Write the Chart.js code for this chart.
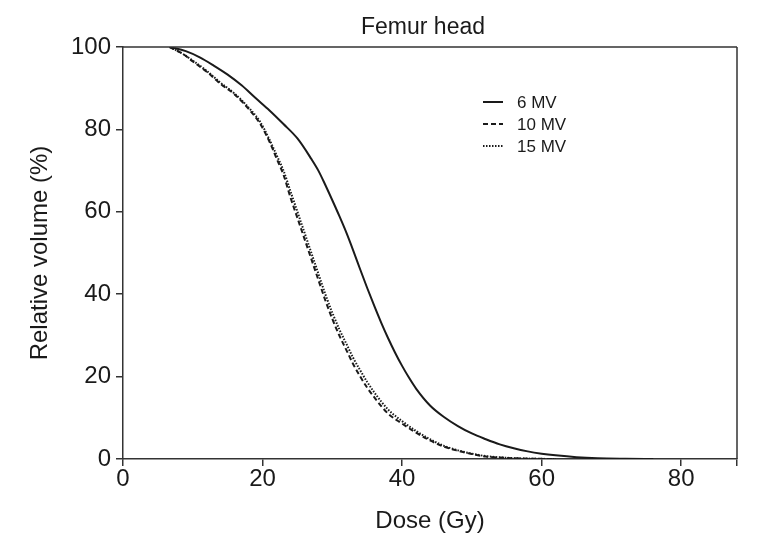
<!DOCTYPE html>
<html><head><meta charset="utf-8">
<script src="https://cdn.jsdelivr.net/npm/chart.js@4.4.1/dist/chart.umd.min.js"></script>
<style>html,body{margin:0;padding:0;background:#fff}#wrap{width:777px;height:554px}</style>
</head><body><div id="wrap"><canvas id="c" width="777" height="554"></canvas></div>
<script>
const chartTitle = "Femur head";
const seriesNames = ["6 MV", "10 MV", "15 MV"];
const dose6  = [6.7, 9, 11, 13, 15, 17, 19, 21, 23, 25, 27, 28, 29, 30, 31, 32, 33, 34, 35, 36, 37, 38, 39, 40, 41, 42, 44, 46, 48, 50, 52, 54, 56, 58, 60, 62, 65, 68, 72, 76];
const vol6   = [100, 99, 97.5, 95.5, 93.3, 90.7, 87.6, 84.6, 81.3, 77.8, 72.8, 70, 66.5, 62.8, 59, 55, 50.6, 46, 41.5, 37.2, 33.1, 29.3, 25.8, 22.6, 19.7, 17.1, 13, 10.2, 8, 6.2, 4.8, 3.55, 2.6, 1.85, 1.3, 0.9, 0.45, 0.2, 0.07, 0];
const dose10 = [6.7, 8.6, 10, 12, 14, 16, 18, 19.6, 21, 22, 23, 24, 25, 26, 27, 28, 29, 30, 31, 32, 33, 34, 35, 36, 38, 40, 42, 44, 46, 48, 50, 52, 55, 58, 62];
const vol10  = [100, 98.3, 96.5, 94, 91, 88.5, 85, 81.5, 77, 73, 69, 63.5, 58.5, 53.5, 48.5, 43.5, 38.5, 34, 30, 26.5, 23, 20, 17.3, 15, 11, 8.6, 6.4, 4.5, 3, 2, 1.2, 0.6, 0.25, 0.08, 0];
const dose15 = [6.7, 8.6, 10, 12, 14, 16, 18, 19.6, 21, 22, 23, 24, 25, 26, 27, 28, 29, 30, 31, 32, 33, 34, 35, 36, 38, 40, 42, 44, 46, 48, 50, 52, 55, 58, 62];
const vol15  = [100, 98.3, 96.7, 94.2, 91.3, 88.7, 85.3, 82, 77.5, 73.8, 70, 65, 60, 55, 50, 45, 40, 35.5, 31.5, 28, 24.5, 21.5, 18.7, 16.2, 12, 9.2, 6.8, 4.8, 3.2, 2.1, 1.3, 0.7, 0.3, 0.1, 0];
const xTicks = [0, 20, 40, 60, 80];
const yTicks = [0, 20, 40, 60, 80, 100];

const pts = (xs, ys) => xs.map((x, i) => ({x: x, y: ys[i]}));
const ink = '#1a1a1a';
const font = 'Liberation Sans, Arial, sans-serif';

const frame = {
  id: 'frame',
  afterDatasetsDraw(chart) {
    const {ctx, chartArea: a} = chart;
    ctx.save();
    ctx.strokeStyle = '#333';
    ctx.lineWidth = 1.5;
    ctx.beginPath();
    ctx.moveTo(a.left, a.top); ctx.lineTo(a.right, a.top);
    ctx.moveTo(a.right, a.top); ctx.lineTo(a.right, a.bottom);
    ctx.stroke();
    // title
    ctx.font = '23px ' + font;
    ctx.fillStyle = ink;
    ctx.textAlign = 'center';
    ctx.textBaseline = 'middle';
    ctx.fillText(chartTitle, 423, 28);
    // legend
    const lx = 483, ly = [102, 124, 146];
    ctx.font = '17px ' + font;
    ctx.textAlign = 'left';
    chart.data.datasets.forEach((ds, i) => {
      ctx.beginPath();
      ctx.setLineDash(ds.borderDash || []);
      ctx.lineWidth = ds.borderWidth;
      ctx.strokeStyle = ds.borderColor;
      ctx.moveTo(lx, ly[i]); ctx.lineTo(lx + 20, ly[i]);
      ctx.stroke();
      ctx.setLineDash([]);
      ctx.fillText(ds.label, lx + 34, ly[i] + 1);
    });
    ctx.restore();
  }
};

new Chart(document.getElementById('c'), {
  type: 'scatter',
  data: {
    datasets: [
      {label: seriesNames[0], data: pts(dose6, vol6), borderColor: ink, borderWidth: 2, borderDash: [], showLine: true, pointRadius: 0, cubicInterpolationMode: 'monotone'},
      {label: seriesNames[1], data: pts(dose10, vol10), borderColor: ink, borderWidth: 2, borderDash: [5, 3], showLine: true, pointRadius: 0, cubicInterpolationMode: 'monotone'},
      {label: seriesNames[2], data: pts(dose15, vol15), borderColor: ink, borderWidth: 2, borderDash: [1.5, 1.5], showLine: true, pointRadius: 0, cubicInterpolationMode: 'monotone'}
    ]
  },
  options: {
    responsive: false,
    animation: false,
    layout: {padding: {left: 0, right: 40, top: 47, bottom: 0}},
    plugins: {
      legend: {display: false},
      tooltip: {enabled: false},
      title: {display: false}
    },
    scales: {
      x: {
        type: 'linear', min: 0, max: 88,
        afterBuildTicks: s => { s.ticks = xTicks.concat([88]).map(v => ({value: v})); },
        afterFit: s => { s.height = 95; },
        ticks: {color: ink, font: {family: font, size: 24}, padding: -1, maxRotation: 0,
          callback: v => xTicks.includes(v) ? String(v) : ''},
        grid: {display: true, drawOnChartArea: false, drawTicks: true, tickLength: 7, color: '#333', lineWidth: 1.5},
        border: {display: true, color: '#333', width: 1.5},
        title: {display: true, text: 'Dose (Gy)', color: ink, font: {family: font, size: 24}, padding: {top: 4, bottom: 18}}
      },
      y: {
        type: 'linear', min: 0, max: 100,
        afterBuildTicks: s => { s.ticks = yTicks.map(v => ({value: v})); },
        afterFit: s => { s.width = 123; },
        ticks: {color: ink, font: {family: font, size: 24}, padding: 5},
        grid: {display: true, drawOnChartArea: false, drawTicks: true, tickLength: 7, color: '#333', lineWidth: 1.5},
        border: {display: true, color: '#333', width: 1.5},
        title: {display: true, text: 'Relative volume (%)', color: ink, font: {family: font, size: 24}, padding: {top: 26, bottom: 4}}
      }
    }
  },
  plugins: [frame]
});
</script></body></html>
